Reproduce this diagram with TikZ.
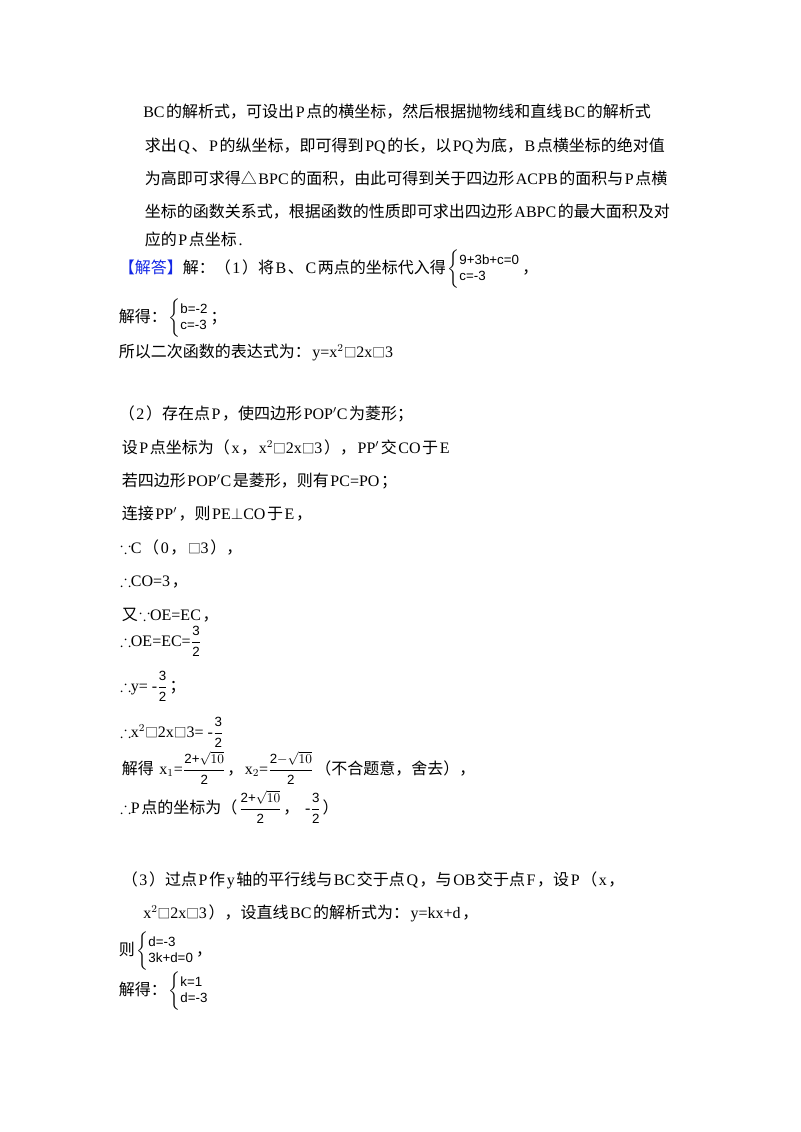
\documentclass[tikz,border=0pt]{standalone}
\usepackage{amsmath,amssymb}
\usepackage{fontspec}
\setmainfont{Liberation Serif}
\setsansfont{Liberation Sans}
\newfontfamily\cjk{Noto Sans CJK SC}
\newcommand{\zh}[1]{{\hspace{0.1em}\cjk #1\hspace{0.1em}}}
\newcommand{\bx}{{\cjk\fontsize{9.5}{9}\selectfont □}}
\newcommand{\sys}[2]{$\left\{\text{\sffamily\fontsize{10}{12}\selectfont\begin{tabular}{@{}l@{}}#1\\#2\end{tabular}}\right.$}
\newcommand{\fr}[2]{$\dfrac{\text{\sffamily\fontsize{10}{10}\selectfont #1}}{\text{\sffamily\fontsize{10}{10}\selectfont #2}}$}
\definecolor{ans}{RGB}{20,40,230}
\begin{document}
\begin{tikzpicture}[x=0.75pt,y=-0.75pt,
  ln/.style={anchor=base west,inner sep=0pt,font=\fontsize{12}{14}\selectfont}]
\useasboundingbox[fill=white] (0,0) rectangle (800,1132);
\node[ln] (l1) at (143,117) {BC\zh{的解析式，可设出}P\zh{点的横坐标，然后根据抛物线和直线}BC\zh{的解析式}};
\node[ln] (l2) at (143,151) {\zh{求出}Q\zh{、}P\zh{的纵坐标，即可得到}PQ\zh{的长，以}PQ\zh{为底，}B\zh{点横坐标的绝对值}};
\node[ln] (l3) at (143,184) {\zh{为高即可求得△}BPC\zh{的面积，由此可得到关于四边形}ACPB\zh{的面积与}P\zh{点横}};
\node[ln] (l4) at (143,217) {\zh{坐标的函数关系式，根据函数的性质即可求出四边形}ABPC\zh{的最大面积及对}};
\node[ln] (l5) at (143,245) {\zh{应的}P\zh{点坐标}.};
\node[ln] (a1) at (117,273) {\zh{\textcolor{ans}{【解答】}解：（}1\zh{）将}B\zh{、}C\zh{两点的坐标代入得}\sys{9+3b+c=0}{c=-3}\zh{，}};
\node[ln] (a2) at (117,322) {\zh{解得：}\sys{b=-2}{c=-3}\zh{；}};
\node[ln] (a3) at (117,357) {\zh{所以二次函数的表达式为：}y=x$^2$\bx2x\bx3};
\node[ln] (b1) at (117,419) {\zh{（}2\zh{）存在点}P\zh{，使四边形}POP$'$C\zh{为菱形；}};
\node[ln] (b2) at (120,453) {\zh{设}P\zh{点坐标为（}x\zh{，}x$^2$\bx2x\bx3\zh{），}PP$'$\zh{交}CO\zh{于}E};
\node[ln] (b3) at (120,486) {\zh{若四边形}POP$'$C\zh{是菱形，则有}PC=PO\zh{；}};
\node[ln] (b4) at (120,519) {\zh{连接}PP$'$\zh{，则}PE$\perp$CO\zh{于}E\zh{，}};
\node[ln] (b5) at (120,553) {$\because$C\zh{（}0\zh{，}\bx3\zh{），}};
\node[ln] (b6) at (120,586) {$\therefore$CO=3\zh{，}};
\node[ln] (b7) at (120,620) {\zh{又}$\because$OE=EC\zh{，}};
\node[ln] (b8) at (120,646) {$\therefore$OE=EC=\fr{3}{2}};
\node[ln] (b9) at (120,691) {$\therefore$y= -\fr{3}{2}\zh{；}};
\node[ln] (b10) at (120,737) {$\therefore$x$^2$\bx2x\bx3= -\fr{3}{2}};
\node[ln] (b11) at (120,774) {\zh{解得} x$_1$=\fr{2+$\sqrt{10}$}{2}\zh{，}x$_2$=\fr{2$-\sqrt{10}$}{2}\zh{（不合题意，舍去），}};
\node[ln] (b12) at (120,813) {$\therefore$P\zh{点的坐标为（}\fr{2+$\sqrt{10}$}{2}\zh{，} -\fr{3}{2}\zh{）}};
\node[ln] (c1) at (120,885) {\zh{（}3\zh{）过点}P\zh{作}y\zh{轴的平行线与}BC\zh{交于点}Q\zh{，与}OB\zh{交于点}F\zh{，设}P\zh{（}x\zh{，}};
\node[ln] (c2) at (143,918) {x$^2$\bx2x\bx3\zh{），设直线}BC\zh{的解析式为：}y=kx+d\zh{，}};
\node[ln] (c3) at (117,955) {\zh{则}\sys{d=-3}{3k+d=0}\zh{，}};
\node[ln] (c4) at (117,995) {\zh{解得：}\sys{k=1}{d=-3}};
\end{tikzpicture}
\end{document}
